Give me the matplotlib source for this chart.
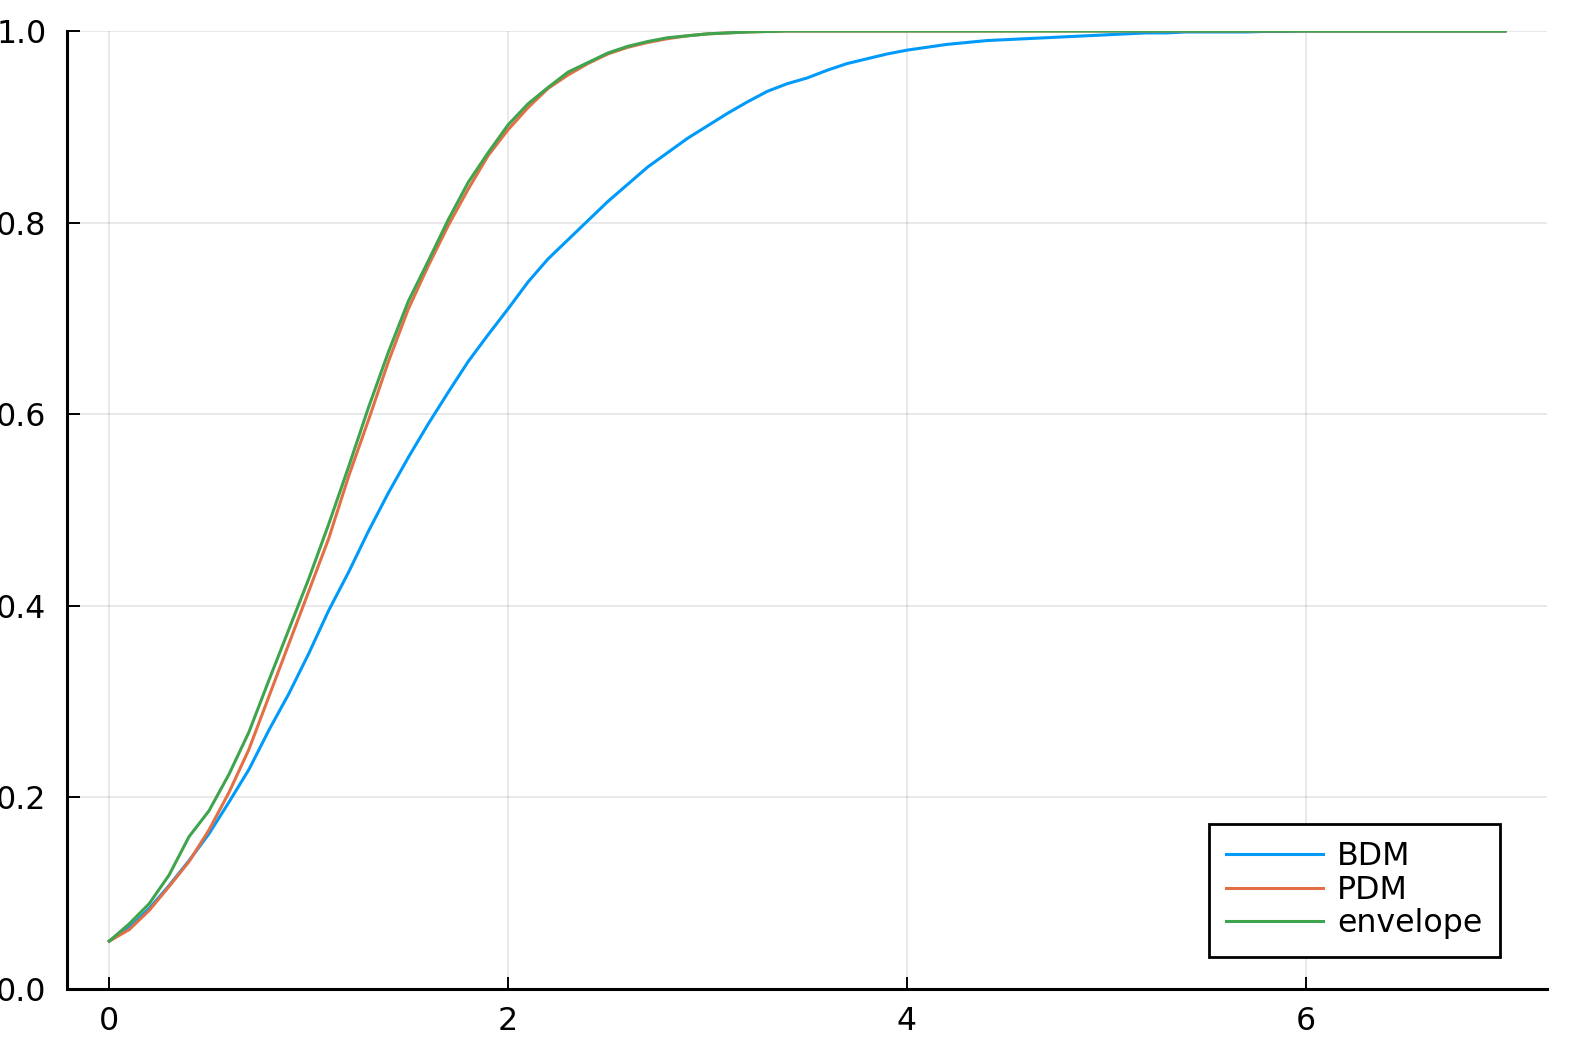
import numpy as np
import matplotlib
matplotlib.use("Agg")
import matplotlib.pyplot as plt

x = np.round(np.arange(0, 7.0001, 0.1), 1)

bdm_head = [0.050, 0.064, 0.084, 0.108, 0.134, 0.162, 0.195, 0.229, 0.270, 0.308,
            0.350, 0.395, 0.435, 0.478, 0.518, 0.555, 0.590, 0.623, 0.655, 0.683,
            0.710, 0.738, 0.762, 0.782, 0.802, 0.822, 0.840, 0.858, 0.873, 0.888,
            0.901, 0.914, 0.926, 0.937, 0.945, 0.951, 0.959, 0.966, 0.971, 0.976,
            0.980, 0.983, 0.986, 0.988, 0.990, 0.991, 0.992, 0.993, 0.994, 0.995,
            0.996, 0.997, 0.998, 0.998, 0.999, 0.999, 0.999, 0.999, 0.9995, 0.9995]
pdm_head = [0.050, 0.062, 0.082, 0.107, 0.133, 0.166, 0.205, 0.250, 0.305, 0.360,
            0.415, 0.470, 0.535, 0.594, 0.655, 0.710, 0.755, 0.797, 0.835, 0.870,
            0.897, 0.920, 0.940, 0.954, 0.966, 0.976, 0.983, 0.988, 0.992, 0.995,
            0.997, 0.998, 0.999, 0.9995]
env_head = [0.050, 0.068, 0.089, 0.119, 0.159, 0.186, 0.224, 0.268, 0.322, 0.375,
            0.428, 0.485, 0.545, 0.607, 0.665, 0.718, 0.760, 0.803, 0.842, 0.873,
            0.902, 0.924, 0.941, 0.957, 0.967, 0.977, 0.984, 0.989, 0.993, 0.995,
            0.997, 0.998, 0.999, 0.9995]

bdm = bdm_head + [1.0] * (len(x) - len(bdm_head))
pdm = pdm_head + [1.0] * (len(x) - len(pdm_head))
envelope = env_head + [1.0] * (len(x) - len(env_head))

labels = ["BDM", "PDM", "envelope"]
colors = ["#009AFA", "#E36F47", "#3EA44E"]
xticks = [0, 2, 4, 6]
yticks = [0.0, 0.2, 0.4, 0.6, 0.8, 1.0]

plt.rcParams['font.family'] = ['DejaVu Sans']
fig = plt.figure(figsize=(15.78, 10.52), dpi=100)
ax = fig.add_axes([67.4 / 1578, 1 - 989 / 1052, (1547 - 67.4) / 1578, (989 - 31) / 1052])

for series, lab, c in zip([bdm, pdm, envelope], labels, colors):
    ax.plot(x, series, color=c, lw=2.2, label=lab)

ax.set_xlim(-0.21, 7.21)
ax.set_ylim(0, 1)
ax.set_xticks(xticks)
ax.set_xticklabels([str(t) for t in xticks])
ax.set_yticks(yticks)
ax.set_yticklabels([f"{t:.1f}" for t in yticks])
ax.grid(True, color="#000000", alpha=0.1, lw=1.2)
ax.set_axisbelow(True)
for s in ["top", "right"]:
    ax.spines[s].set_visible(False)
for s in ["left", "bottom"]:
    ax.spines[s].set_linewidth(2.2)
    ax.spines[s].set_color("black")
ax.tick_params(axis="both", direction="in", length=9, width=1.4, labelsize=22.8,
               colors="black")
ax.tick_params(axis="x", pad=12)
ax.tick_params(axis="y", pad=15)

leg = ax.legend(loc="upper left", bbox_to_anchor=(1209 / 1578, 1 - 824 / 1052),
                bbox_transform=fig.transFigure, fontsize=22.8, frameon=True,
                fancybox=False, edgecolor="black", handlelength=3.05,
                handletextpad=0.45, labelspacing=0.08, borderpad=0.55,
                borderaxespad=0)
leg.get_frame().set_linewidth(2.0)
leg.get_frame().set_alpha(1)

fig.savefig("out.png", dpi=100)
